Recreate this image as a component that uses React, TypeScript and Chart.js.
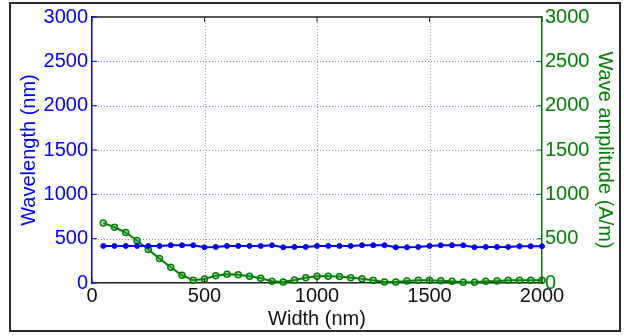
import React, { useEffect, useRef } from "react";
import { Chart, registerables } from "chart.js";

Chart.register(...registerables);

const widths = [
  50, 100, 150, 200, 250, 300, 350, 400, 450, 500,
  550, 600, 650, 700, 750, 800, 850, 900, 950, 1000,
  1050, 1100, 1150, 1200, 1250, 1300, 1350, 1400, 1450, 1500,
  1550, 1600, 1650, 1700, 1750, 1800, 1850, 1900, 1950, 2000,
];

const wavelength = [
  418, 418, 418, 418, 418, 418, 426, 426, 426, 403,
  407, 418, 418, 418, 418, 426, 403, 407, 407, 418,
  418, 418, 418, 426, 426, 426, 403, 403, 407, 418,
  426, 426, 426, 403, 407, 407, 407, 415, 415, 415,
];

const amplitude = [
  678, 629, 569, 479, 377, 275, 177, 87, 30, 45,
  83, 98, 94, 75, 53, 19, 11, 34, 60, 75,
  75, 72, 60, 49, 30, 11, 11, 23, 30, 30,
  26, 19, 8, 8, 19, 23, 30, 30, 30, 30,
];

const xTicks = [0, 500, 1000, 1500, 2000];
const yTicks = [0, 500, 1000, 1500, 2000, 2500, 3000];

const BLUE = "rgb(0,0,255)";
const GREEN = "rgb(0,128,0)";
const FONT = "'Liberation Sans', Arial, sans-serif";

const dottedGrid = {
  id: "dottedGrid",
  beforeDatasetsDraw(chart: any) {
    const { ctx, chartArea, scales } = chart;
    const { left, right, top, bottom } = chartArea;
    ctx.save();
    ctx.lineWidth = 1;
    ctx.setLineDash([1, 2]);
    ctx.strokeStyle = "rgba(150,150,150,0.9)";
    xTicks.slice(1, -1).forEach((v) => {
      const px = Math.round(scales.x.getPixelForValue(v)) + 0.5;
      ctx.beginPath();
      ctx.moveTo(px, top);
      ctx.lineTo(px, bottom);
      ctx.stroke();
    });
    ctx.strokeStyle = "rgba(120,120,255,0.9)";
    yTicks.slice(1, -1).forEach((v) => {
      const py = Math.round(scales.y.getPixelForValue(v)) + 0.5;
      ctx.beginPath();
      ctx.moveTo(left, py);
      ctx.lineTo(right, py);
      ctx.stroke();
    });
    ctx.restore();
  },
};

const innerTicks = {
  id: "innerTicks",
  afterDraw(chart: any) {
    const { ctx, chartArea, scales } = chart;
    const { left, right, top, bottom } = chartArea;
    const len = 5;
    ctx.save();
    ctx.lineWidth = 1.5;
    ctx.strokeStyle = "#222";
    ctx.beginPath();
    ctx.moveTo(left, top);
    ctx.lineTo(right, top);
    ctx.stroke();
    ctx.lineWidth = 1;
    xTicks.forEach((v) => {
      const px = scales.x.getPixelForValue(v);
      ctx.beginPath();
      ctx.moveTo(px, bottom);
      ctx.lineTo(px, bottom - len);
      ctx.moveTo(px, top);
      ctx.lineTo(px, top + len);
      ctx.stroke();
    });
    ctx.strokeStyle = BLUE;
    yTicks.forEach((v) => {
      const py = scales.y.getPixelForValue(v);
      ctx.beginPath();
      ctx.moveTo(left, py);
      ctx.lineTo(left + len, py);
      ctx.stroke();
    });
    ctx.strokeStyle = GREEN;
    yTicks.forEach((v) => {
      const py = scales.y1.getPixelForValue(v);
      ctx.beginPath();
      ctx.moveTo(right, py);
      ctx.lineTo(right - len, py);
      ctx.stroke();
    });
    ctx.restore();
  },
};

const plain = (v: any) => String(v);

export default function App() {
  const ref = useRef<HTMLCanvasElement | null>(null);

  useEffect(() => {
    if (!ref.current) return;
    const chart = new Chart(ref.current, {
      type: "line",
      data: {
        datasets: [
          {
            label: "Wavelength",
            data: widths.map((x, i) => ({ x, y: wavelength[i] })),
            yAxisID: "y",
            borderColor: BLUE,
            backgroundColor: BLUE,
            borderWidth: 2,
            pointRadius: 2.5,
            pointBackgroundColor: BLUE,
            pointBorderColor: BLUE,
            pointBorderWidth: 1,
            tension: 0,
            clip: 4,
          },
          {
            label: "Amplitude",
            data: widths.map((x, i) => ({ x, y: amplitude[i] })),
            yAxisID: "y1",
            borderColor: GREEN,
            backgroundColor: "rgba(0,150,0,0.3)",
            borderWidth: 2,
            pointRadius: 3,
            pointBackgroundColor: "rgba(60,170,60,0.35)",
            pointBorderColor: GREEN,
            pointBorderWidth: 1.5,
            tension: 0,
            clip: 4,
          },
        ],
      },
      options: {
        animation: false,
        responsive: false,
        events: [],
        layout: { padding: { top: 17, left: 0, right: 0, bottom: 0 } },
        plugins: {
          legend: { display: false },
          tooltip: { enabled: false },
        },
        scales: {
          x: {
            type: "linear",
            min: 0,
            max: 2000,
            afterBuildTicks: (s: any) => {
              s.ticks = xTicks.map((v) => ({ value: v }));
            },
            afterFit: (s: any) => {
              s.height = 53;
            },
            ticks: {
              color: "#111",
              font: { family: FONT, size: 20 },
              padding: 1,
              maxRotation: 0,
              autoSkip: false,
              callback: plain,
            },
            grid: { drawTicks: false, color: "rgba(0,0,0,0)" },
            border: { color: "#222", width: 1.5 },
            title: {
              display: true,
              text: "Width (nm)",
              color: "#111",
              font: { family: FONT, size: 20 },
              padding: { top: 0, bottom: 5 },
            },
          },
          y: {
            type: "linear",
            position: "left",
            min: 0,
            max: 3000,
            afterBuildTicks: (s: any) => {
              s.ticks = yTicks.map((v) => ({ value: v }));
            },
            afterFit: (s: any) => {
              s.width = 92;
            },
            ticks: {
              color: BLUE,
              font: { family: FONT, size: 20 },
              padding: 4,
              autoSkip: false,
              callback: plain,
            },
            grid: { drawTicks: false, color: "rgba(0,0,0,0)" },
            border: { color: BLUE, width: 1.5 },
            title: {
              display: true,
              text: "Wavelength (nm)",
              color: BLUE,
              font: { family: FONT, size: 20 },
              padding: { top: 17, bottom: 0 },
            },
          },
          y1: {
            type: "linear",
            position: "right",
            min: 0,
            max: 3000,
            afterBuildTicks: (s: any) => {
              s.ticks = yTicks.map((v) => ({ value: v }));
            },
            afterFit: (s: any) => {
              s.width = 82;
            },
            ticks: {
              color: GREEN,
              font: { family: FONT, size: 20 },
              padding: 3,
              autoSkip: false,
              callback: plain,
            },
            grid: { drawOnChartArea: false, drawTicks: false },
            border: { color: GREEN, width: 1.5 },
            title: {
              display: true,
              text: "Wave amplitude (A/m)",
              color: GREEN,
              font: { family: FONT, size: 20 },
              padding: { top: 7, bottom: 0 },
            },
          },
        },
      },
      plugins: [dottedGrid, innerTicks],
    } as any);
    return () => chart.destroy();
  }, []);

  return (
    <div
      style={{
        position: "fixed",
        left: 0,
        top: 0,
        width: 624,
        height: 336,
        background: "#fff",
      }}
    >
      <canvas
        ref={ref}
        width={624}
        height={336}
        style={{ position: "absolute", left: 0, top: 0, width: 624, height: 336 }}
      />
      <div
        style={{
          position: "absolute",
          left: 9,
          top: 2,
          width: 608,
          height: 326,
          border: "2px solid #2a2a2a",
          pointerEvents: "none",
        }}
      />
    </div>
  );
}
